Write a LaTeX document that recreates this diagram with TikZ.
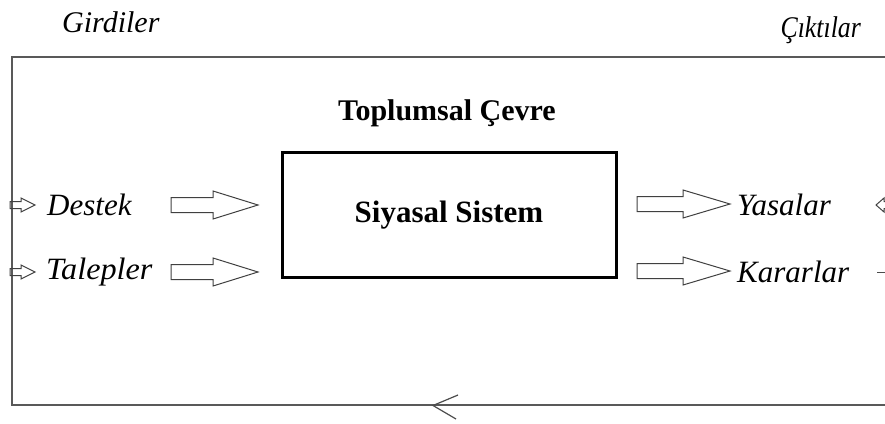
\documentclass[tikz,border=0pt]{standalone}
\usepackage{fontspec}
\setmainfont{Liberation Serif}
\begin{document}
\begin{tikzpicture}[x=1pt,y=-1pt,
  frame/.style={draw=black!65,line width=1.6pt},
  sysbox/.style={draw=black,line width=3pt},
  fatline/.style={draw=black!75,line width=1pt,line join=miter},
  lab/.style={font=\fontsize{31}{31}\selectfont\itshape,inner sep=0pt},
  big/.style={font=\fontsize{30}{30}\selectfont\itshape,inner sep=0pt},
  boldlab/.style={font=\fontsize{30}{30}\selectfont\bfseries,inner sep=0pt}]
\useasboundingbox (0,0) rectangle (885,423);
% arrow macro: start x, y, total length, shaft length, half shaft, half head
\newcommand{\fatarr}[6]{\draw[fatline] (#1,#2-#5) -- (#1+#4,#2-#5) -- (#1+#4,#2-#6) -- (#1+#3,#2) -- (#1+#4,#2+#6) -- (#1+#4,#2+#5) -- (#1,#2+#5) -- cycle;}
% outer frame
\coordinate (ftr) at (885,57);
\coordinate (ftl) at (12,57);
\coordinate (fbl) at (12,405);
\coordinate (fbr) at (885,405);
\draw[frame] (ftr) -- (ftl) -- (fbl) -- (fbr);
% feedback arrowhead
\coordinate (fbv) at (433,405.5);
\draw[black!70,line width=1.2pt] (458,395) -- (fbv) -- (456,419);
% titles
\node[big,anchor=west] (gir) at (62,22) {Girdiler};
\node[big,anchor=east,xscale=0.86] (cik) at (861,30) {Çıktılar};
\node[boldlab] (cevre) at (447,113) {Toplumsal Çevre};
% system box
\node[sysbox,minimum width=334pt,minimum height=125pt,inner sep=0pt,font=\fontsize{31}{31}\selectfont\bfseries] (sis) at (449,215) {Siyasal Sistem};
% inputs
\fatarr{10}{205}{25}{11}{3.5}{7}
\fatarr{10}{272}{25}{11}{3.5}{7}
\node[lab,anchor=west] (destek) at (47,205) {Destek};
\node[lab,anchor=west,xscale=1.04] (talep) at (46,272) {Talepler};
\fatarr{171}{205}{87}{42}{7.5}{14}
\fatarr{171}{272}{87}{42}{7.5}{14}
% outputs
\fatarr{637}{204}{93}{46}{7.5}{14}
\fatarr{637}{271}{93}{46}{7.5}{14}
\node[lab,anchor=west] (yasa) at (737,205) {Yasalar};
\node[lab,anchor=west] (karar) at (737,272) {Kararlar};
% right edge (cropped)
\begin{scope}
\clip (0,0) rectangle (885,423);
\draw[fatline] (895,201.5) -- (884,201.5) -- (884,198) -- (876,205) -- (884,212) -- (884,208.5) -- (895,208.5);
\draw[black!70,line width=1pt] (877,272) -- (886,272);
\end{scope}
\end{tikzpicture}
\end{document}
